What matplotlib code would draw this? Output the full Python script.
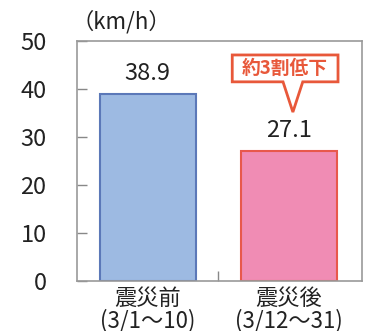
import numpy as np
import matplotlib.pyplot as plt
from matplotlib.patches import Polygon

plt.rcParams['font.family'] = ['Noto Sans CJK JP', 'DejaVu Sans']

# average speed before / after the earthquake
categories = ['震災前\n(3/1～10)', '震災後\n(3/12～31)']
speeds = [38.9, 27.1]
value_labels = ['38.9', '27.1']
y_ticks = [0, 10, 20, 30, 40, 50]
callout_text = '約3割低下'

fill_colors = ['#9dbae2', '#f08cb4']
edge_colors = ['#5b78b8', '#e8584c']
accent = '#e8583a'
text_color = '#222222'

fig = plt.figure(figsize=(3.69, 3.31), dpi=100)
ax = fig.add_axes([0.209, 0.151, 0.772, 0.725])

x = np.arange(len(categories))
ax.bar(x, speeds, width=0.68, color=fill_colors, edgecolor=edge_colors, linewidth=1.5)

ax.set_xlim(-0.5, 1.52)
ax.set_ylim(0, 50)
ax.set_yticks(y_ticks)
ax.set_yticklabels([str(t) for t in y_ticks], fontsize=17, color=text_color)
ax.tick_params(axis='y', direction='in', length=7, width=1, color='#888888', pad=22)

# categories sit on the bars, with a single divider tick between them
ax.set_xticks([0.5])
ax.set_xticklabels([''])
ax.tick_params(axis='x', direction='in', length=7, width=1, color='#888888')
for xi, cat in zip(x, categories):
    ax.text(xi, -1.2, cat, ha='center', va='top', fontsize=16, color=text_color,
            linespacing=0.95)

for spine in ax.spines.values():
    spine.set_color('#999999')
    spine.set_linewidth(1.2)

for xi, v, lab in zip(x, speeds, value_labels):
    ax.annotate(lab, (xi, v), xytext=(0, 15), textcoords='offset points',
                ha='center', va='center', fontsize=17, color=text_color)

# speech-bubble callout pointing at the second bar's label
tip_x, tip_y = x[1] + 0.03, speeds[1] + 8.1
box_l, box_r, box_b, box_t = 0.60, 1.35, 41.5, 47.1
bubble = Polygon([(box_l, box_b), (tip_x - 0.07, box_b), (tip_x, tip_y),
                  (tip_x + 0.07, box_b), (box_r, box_b), (box_r, box_t),
                  (box_l, box_t)], closed=True, facecolor='white',
                 edgecolor=accent, linewidth=2, joinstyle='miter', zorder=3)
ax.add_patch(bubble)
ax.text((box_l + box_r) / 2, (box_b + box_t) / 2, callout_text, ha='center',
        va='center', fontsize=13.5, fontweight='bold', color=accent, zorder=4)

fig.text(0.328, 0.935, '（km/h）', ha='center', va='center', fontsize=16,
         color=text_color)

fig.savefig('out.png', dpi=100, facecolor='white')
